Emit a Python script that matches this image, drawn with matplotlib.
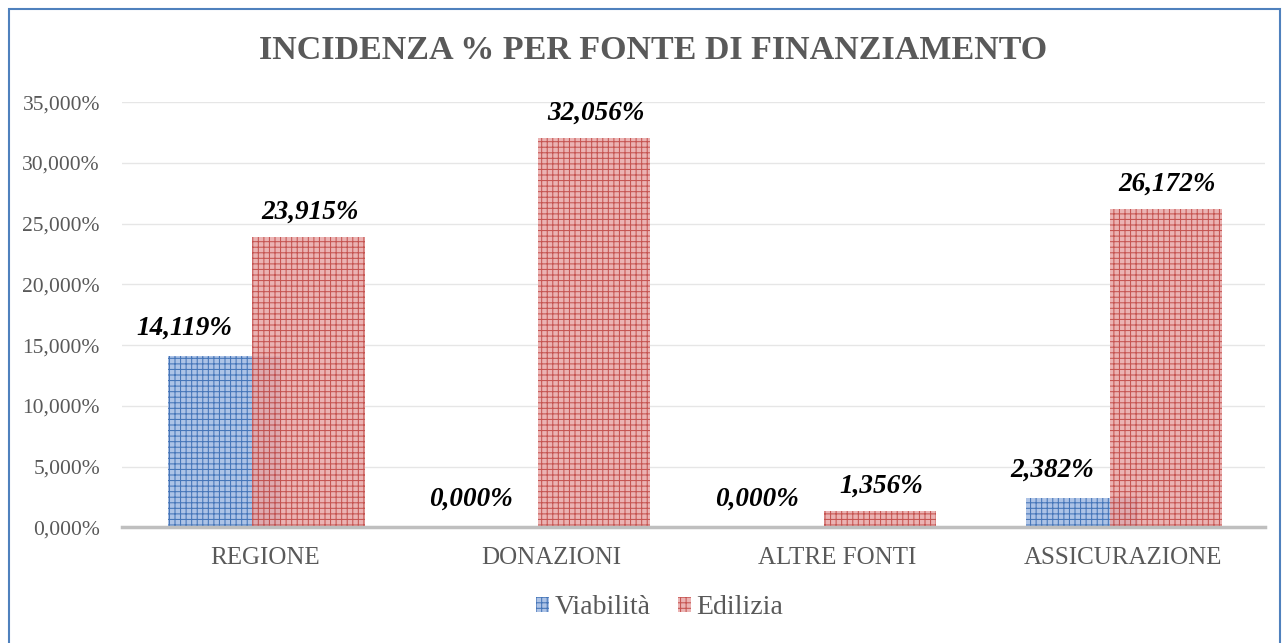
import matplotlib.pyplot as plt
from matplotlib.patches import Rectangle
import numpy as np

# Data
categorie = ['REGIONE', 'DONAZIONI', 'ALTRE FONTI', 'ASSICURAZIONE']
viabilita = [14.119, 0.000, 0.000, 2.382]
edilizia = [23.915, 32.056, 1.356, 26.172]
etichette_y = ['0,000%', '5,000%', '10,000%', '15,000%', '20,000%', '25,000%', '30,000%', '35,000%']

plt.rcParams['font.family'] = ['Liberation Serif', 'DejaVu Serif']
plt.rcParams['hatch.linewidth'] = 0.75

fig = plt.figure(figsize=(12.86, 6.43), dpi=100)
ax = fig.add_axes([0.095, 0.180, 0.889, 0.661])

x = np.arange(len(categorie))
w = 0.393
off = 0.147

blu = ax.bar(x - off + 0.005, viabilita, w, facecolor='#adc3e6', edgecolor='#4575b8',
             hatch='+++', linewidth=0, label='Viabilità', zorder=2)
rosso = ax.bar(x + off + 0.005, edilizia, w, facecolor='#e8a6a6', edgecolor='#bf4440',
               hatch='+++', linewidth=0, alpha=0.85, label='Edilizia', zorder=3)

def fmt(v):
    return f'{v:.3f}%'.replace('.', ',')

# spostamento orizzontale delle etichette blu (in punti)
sposta_blu = [-28, -27, -27, -20]
for xi, v, dx in zip(x, viabilita, sposta_blu):
    ax.annotate(fmt(v), (xi - off, v), xytext=(dx, 11), textcoords='offset points',
                ha='center', va='bottom', fontsize=19.5, fontweight='bold',
                fontstyle='italic', color='black')
for xi, v in zip(x, edilizia):
    ax.annotate(fmt(v), (xi + off, v), xytext=(2, 9), textcoords='offset points',
                ha='center', va='bottom', fontsize=19.5, fontweight='bold',
                fontstyle='italic', color='black')

ax.set_xlim(-0.5, 3.5)
ax.set_ylim(0, 35)
ax.set_yticks(np.arange(0, 36, 5))
ax.set_yticklabels(etichette_y, fontsize=15.5, color='#595959')
ax.set_xticks(x)
ax.set_xticklabels(categorie, fontsize=18, color='#595959')
ax.tick_params(length=0)
ax.tick_params(axis='y', pad=16)
ax.tick_params(axis='x', pad=14)
ax.yaxis.grid(True, color='#e6e6e6', linewidth=1)
ax.set_axisbelow(True)
for s in ['top', 'right', 'left']:
    ax.spines[s].set_visible(False)
ax.spines['bottom'].set_color('#bfbfbf')
ax.spines['bottom'].set_linewidth(2.5)
ax.spines['bottom'].set_zorder(4)

fig.text(0.508, 0.922, 'INCIDENZA % PER FONTE DI FINANZIAMENTO', ha='center', va='center',
         fontsize=24.5, fontweight='bold', color='#595959')

fig.legend(handles=[blu, rosso], loc='center', bbox_to_anchor=(0.513, 0.055), ncol=2,
           frameon=False, fontsize=20, handlelength=0.45, handleheight=0.45,
           handletextpad=0.2, columnspacing=1.0, labelcolor='#595959')

fig.patches.append(Rectangle((0.007, -0.01), 0.988, 0.996, transform=fig.transFigure,
                             fill=False, edgecolor='#4f81bd', linewidth=1.5))

fig.savefig('out.png', dpi=100)
